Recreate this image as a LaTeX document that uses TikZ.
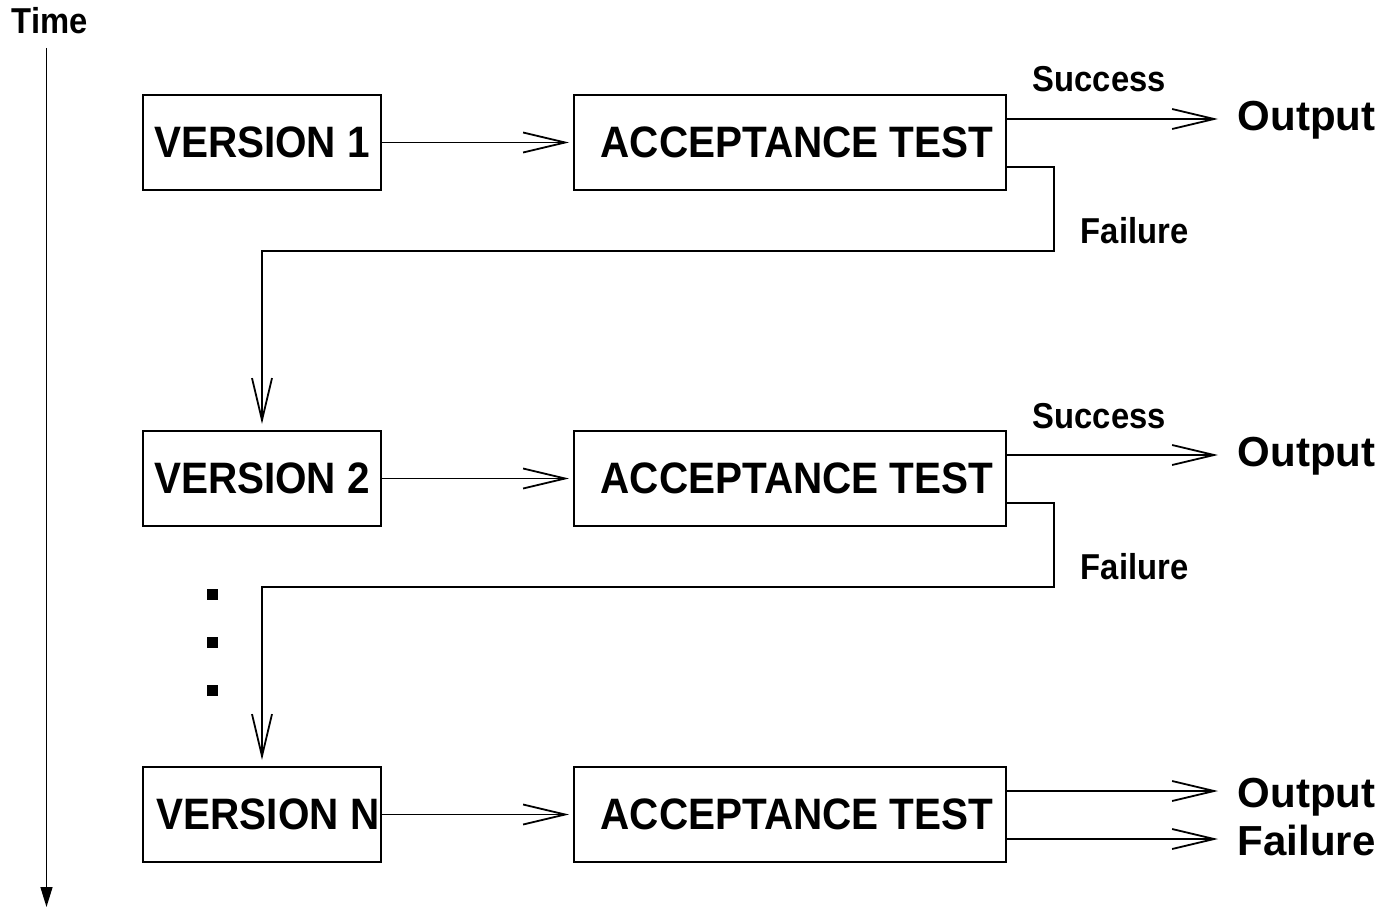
\documentclass[tikz,border=0pt]{standalone}
\usepackage{fontspec}
\setmainfont{Liberation Sans}
\newfontfamily\boxfont[FakeStretch=0.92]{Liberation Sans}
\newfontfamily\labelfont[FakeStretch=0.91]{Liberation Sans}
\usetikzlibrary{arrows.meta}
\begin{document}
\begin{tikzpicture}[x=1pt,y=-1pt,
  line width=1.8pt,
  box/.style={draw, line width=2pt, inner sep=0pt, font=\boxfont\bfseries\fontsize{44}{46}\selectfont},
  vbox/.style={box, minimum width=238pt, minimum height=95pt},
  abox/.style={box, minimum width=432pt, minimum height=95pt},
  flow/.style={-{Straight Barb[length=42pt,width=20pt,line width=1.8pt]}},
  small/.style={font=\labelfont\bfseries\fontsize{36}{38}\selectfont, inner sep=0pt, anchor=base west},
  big/.style={font=\bfseries\fontsize{42}{44}\selectfont, inner sep=0pt, anchor=base west},
  dot/.style={fill, rectangle, inner sep=0pt, minimum size=11pt},
]
\useasboundingbox (0,0) rectangle (1383,907);

% time axis
\node[small] (time) at (11,34) {Time};
\coordinate (t0) at (46.5,48);
\coordinate (t1) at (46.5,907);
\draw[line width=1.5pt, -{Triangle[length=20pt,width=12pt]}] (t0) -- (t1);

% boxes
\node[vbox] (v1) at (262,142.5) {VERSION 1};
\node[abox] (a1) at (790,142.5) {\hspace*{14pt}ACCEPTANCE TEST};
\node[vbox] (v2) at (262,478.5) {VERSION 2};
\node[abox] (a2) at (790,478.5) {\hspace*{14pt}ACCEPTANCE TEST};
\node[vbox] (vN) at (262,814.5) {\hspace*{12pt}VERSION N};
\node[abox] (aN) at (790,814.5) {\hspace*{14pt}ACCEPTANCE TEST};

% version -> test
\draw[flow, shorten >=4pt] (v1) -- (a1);
\draw[flow, shorten >=4pt] (v2) -- (a2);
\draw[flow, shorten >=4pt] (vN) -- (aN);

% row 1
\coordinate (s1) at (1218,119);
\draw[flow] (a1.east |- s1) -- (s1);
\node[small] (succ1) at (1032,92) {Success};
\node[big] (out1) at (1237,130) {Output};
\coordinate (f1) at (1054,167);
\coordinate (f1b) at (1054,251);
\draw[flow, shorten >=6pt] (a1.east |- f1) -- (f1) -- (f1b) -| (v2.north);
\node[small] (fail1) at (1080,243) {Failure};

% row 2
\coordinate (s2) at (1218,455);
\draw[flow] (a2.east |- s2) -- (s2);
\node[small] (succ2) at (1032,428) {Success};
\node[big] (out2) at (1237,466) {Output};
\coordinate (f2) at (1054,503);
\coordinate (f2b) at (1054,587);
\draw[flow, shorten >=6pt] (a2.east |- f2) -- (f2) -- (f2b) -| (vN.north);
\node[small] (fail2) at (1080,579) {Failure};

% dots
\node[dot] (d1) at (212.5,594.5) {};
\node[dot] (d2) at (212.5,642.5) {};
\node[dot] (d3) at (212.5,690.5) {};

% row N
\coordinate (oN) at (1218,791);
\coordinate (fN) at (1218,839);
\draw[flow] (aN.east |- oN) -- (oN);
\draw[flow] (aN.east |- fN) -- (fN);
\node[big] (outN) at (1237,807) {Output};
\node[big] (failN) at (1237,855) {Failure};
\end{tikzpicture}
\end{document}
